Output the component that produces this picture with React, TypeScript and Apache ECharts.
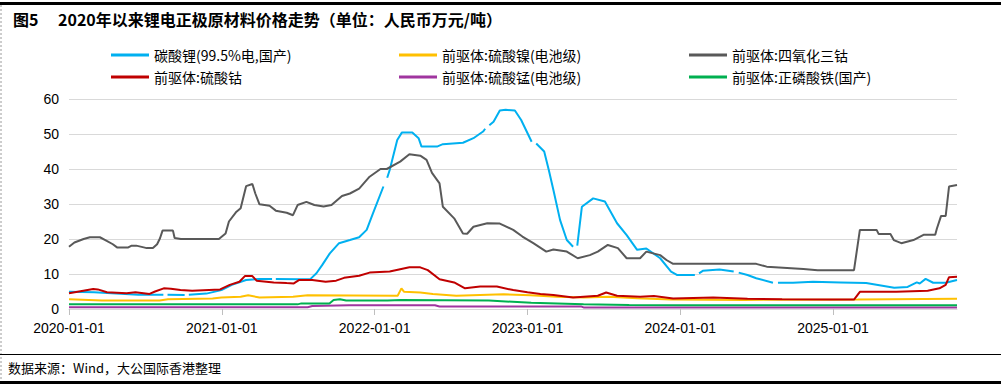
import React, { useEffect, useRef } from "react";
import * as echarts from "echarts";

// ---------- data (value in 万元/吨) ----------
const seriesNames = [
  "碳酸锂(99.5%电,国产)",
  "前驱体:硫酸镍(电池级)",
  "前驱体:四氧化三钴",
  "前驱体:硫酸钴",
  "前驱体:硫酸锰(电池级)",
  "前驱体:正磷酸铁(国产)",
];
const seriesColors = ["#00B0F0", "#FFC000", "#595959", "#C00000", "#A0359F", "#00B050"];

const yearTicks = [2020, 2021, 2022, 2023, 2024, 2025];
const yTickMax = 60;

type P = [string, number | null];

const lithiumCarbonate: P[] = [
  ["2020-01-01", 4.95], ["2020-03-01", 4.8], ["2020-06-15", 4.1], ["2020-08-14", 4.05],
  ["2020-08-19", null], ["2020-08-24", 4.05], ["2020-10-04", 4.0], ["2020-10-09", null],
  ["2020-10-14", 4.05], ["2020-11-25", 4.4], ["2020-12-31", 5.4], ["2021-01-25", 6.9],
  ["2021-02-28", 8.3], ["2021-04-01", 8.6], ["2021-05-01", 8.6], ["2021-05-05", null],
  ["2021-05-10", 8.6], ["2021-07-05", 8.5], ["2021-08-01", 8.6], ["2021-08-15", 10.2],
  ["2021-08-29", 12.6], ["2021-09-16", 15.9], ["2021-10-08", 18.8], ["2021-11-03", 19.7],
  ["2021-11-25", 20.5], ["2021-12-13", 22.6], ["2021-12-28", 27.3], ["2022-01-22", 35],
  ["2022-01-27", null], ["2022-01-31", 37.5], ["2022-02-06", 39.7], ["2022-02-24", 48.3],
  ["2022-03-07", 50.4], ["2022-04-01", 50.4], ["2022-04-16", 48.8], ["2022-04-23", 46.4],
  ["2022-05-30", 46.4], ["2022-06-13", 47.1], ["2022-07-31", 47.5], ["2022-08-25", 48.8],
  ["2022-09-17", 50.7], ["2022-09-22", 51.5], ["2022-09-27", null], ["2022-10-02", 52.5],
  ["2022-10-12", 53.5], ["2022-10-27", 56.7], ["2022-11-10", 56.9], ["2022-12-02", 56.7],
  ["2022-12-17", 54], ["2023-01-11", 47.8], ["2023-01-17", null], ["2023-01-22", 47.3],
  ["2023-02-10", 45], ["2023-02-21", 39.7], ["2023-03-04", 34], ["2023-03-20", 25.4],
  ["2023-04-05", 19.7], ["2023-04-20", 17.8], ["2023-04-25", null], ["2023-04-30", 18.1],
  ["2023-05-11", 29.2], ["2023-06-07", 31.6], ["2023-07-05", 30.7], ["2023-08-03", 24.5],
  ["2023-08-26", 21.1], ["2023-09-20", 16.9], ["2023-10-12", 17.3], ["2023-11-14", 14.5],
  ["2023-12-10", 10.7], ["2023-12-25", 9.7], ["2024-02-05", 9.7], ["2024-02-10", null],
  ["2024-02-15", 10.2], ["2024-02-24", 10.9], ["2024-04-04", 11.3], ["2024-05-08", 10.7],
  ["2024-05-14", null], ["2024-05-20", 10.4], ["2024-06-10", 9.7], ["2024-07-01", 8.8],
  ["2024-08-10", 7.5], ["2024-08-16", null], ["2024-08-22", 7.5], ["2024-09-27", 7.5],
  ["2024-11-14", 7.8], ["2025-01-19", 7.6], ["2025-03-21", 7.4], ["2025-05-27", 6.1],
  ["2025-06-28", 6.3], ["2025-07-20", 7.6], ["2025-07-27", 7.3], ["2025-08-10", 8.6],
  ["2025-08-28", 7.5], ["2025-09-27", 7.5], ["2025-10-24", 8.3],
];

const nickelSulfate: P[] = [
  ["2020-01-01", 2.8], ["2020-03-20", 2.4], ["2020-08-05", 2.4], ["2020-08-25", 2.8],
  ["2020-12-10", 3.0], ["2020-12-31", 3.3], ["2021-02-15", 3.5], ["2021-03-05", 3.9],
  ["2021-04-01", 3.3], ["2021-06-20", 3.5], ["2021-07-25", 3.9], ["2022-02-25", 3.8],
  ["2022-03-06", 5.9], ["2022-03-12", 4.95], ["2022-04-20", 4.7], ["2022-05-20", 4.3],
  ["2022-07-15", 3.8], ["2022-11-05", 4.2], ["2023-01-08", 3.9], ["2023-03-12", 3.5],
  ["2023-05-15", 3.3], ["2023-07-15", 3.5], ["2023-09-20", 3.1], ["2023-12-10", 2.7],
  ["2024-06-01", 2.6], ["2025-03-01", 2.7], ["2025-10-24", 2.9],
];

const cobaltOxide: P[] = [
  ["2020-01-01", 17.8], ["2020-01-14", 19.0], ["2020-02-05", 20.0], ["2020-02-20", 20.5],
  ["2020-03-15", 20.5], ["2020-03-28", 19.7], ["2020-04-15", 18.5], ["2020-04-25", 17.6],
  ["2020-05-22", 17.6], ["2020-05-30", 18.1], ["2020-06-10", 18.1], ["2020-06-28", 17.6],
  ["2020-07-05", 17.4], ["2020-07-20", 17.4], ["2020-07-30", 18.5], ["2020-08-06", 20.2],
  ["2020-08-12", 22.4], ["2020-09-06", 22.4], ["2020-09-10", 20.3], ["2020-09-25", 20.0],
  ["2020-12-25", 20.0], ["2021-01-10", 21.6], ["2021-01-18", 25.0], ["2021-02-05", 27.8],
  ["2021-02-15", 28.8], ["2021-02-28", 35.1], ["2021-03-15", 35.7], ["2021-03-22", 33.0],
  ["2021-04-01", 29.9], ["2021-04-25", 29.5], ["2021-05-10", 28.1], ["2021-06-05", 27.5],
  ["2021-06-20", 26.8], ["2021-07-01", 29.7], ["2021-07-22", 30.6], ["2021-08-10", 29.7],
  ["2021-09-01", 29.3], ["2021-09-20", 29.7], ["2021-10-15", 32.3], ["2021-11-03", 33.0],
  ["2021-11-25", 34.4], ["2021-12-20", 37.8], ["2022-01-15", 40.0], ["2022-01-30", 40.0],
  ["2022-03-03", 42.1], ["2022-03-25", 44.2], ["2022-04-20", 43.8], ["2022-05-05", 42.6],
  ["2022-05-18", 38.9], ["2022-06-05", 35.9], ["2022-06-13", 29.2], ["2022-07-10", 25.9],
  ["2022-07-31", 21.6], ["2022-08-10", 21.5], ["2022-08-25", 23.5], ["2022-09-27", 24.5],
  ["2022-10-27", 24.4], ["2022-11-28", 22.6], ["2022-12-20", 20.7], ["2023-01-15", 18.8],
  ["2023-02-15", 16.4], ["2023-03-04", 17.0], ["2023-04-05", 16.4], ["2023-05-01", 14.5],
  ["2023-05-30", 15.4], ["2023-06-18", 16.4], ["2023-07-12", 18.3], ["2023-08-05", 17.4],
  ["2023-08-26", 14.5], ["2023-09-27", 14.5], ["2023-10-12", 16.4], ["2023-11-14", 15.4],
  ["2023-11-29", 14.0], ["2023-12-15", 12.9], ["2024-07-01", 12.9], ["2024-07-26", 12.1],
  ["2024-10-22", 11.4], ["2024-11-25", 11.1], ["2025-02-20", 11.1], ["2025-03-06", 22.6],
  ["2025-04-15", 22.6], ["2025-04-20", 21.4], ["2025-05-18", 21.4], ["2025-05-26", 19.7],
  ["2025-06-13", 18.8], ["2025-07-12", 19.7], ["2025-08-05", 21.2], ["2025-09-02", 21.2],
  ["2025-09-06", 23.0], ["2025-09-16", 26.6], ["2025-09-27", 26.6], ["2025-10-05", 35.0],
  ["2025-10-24", 35.4],
];

const cobaltSulfate: P[] = [
  ["2020-01-01", 4.5], ["2020-01-25", 5.0], ["2020-02-28", 5.7], ["2020-03-10", 5.6],
  ["2020-04-01", 4.8], ["2020-05-18", 4.5], ["2020-06-08", 4.8], ["2020-07-12", 4.3],
  ["2020-07-25", 5.0], ["2020-08-15", 5.9], ["2020-09-01", 5.8], ["2020-09-24", 5.4],
  ["2020-10-22", 5.2], ["2020-12-28", 5.6], ["2021-01-20", 6.9], ["2021-02-12", 7.8],
  ["2021-02-25", 9.4], ["2021-03-15", 9.4], ["2021-03-25", 8.1], ["2021-05-05", 7.6],
  ["2021-06-05", 7.4], ["2021-06-22", 7.3], ["2021-07-05", 8.3], ["2021-08-05", 8.3],
  ["2021-09-06", 7.8], ["2021-10-01", 8.1], ["2021-10-20", 8.9], ["2021-11-25", 9.5],
  ["2021-12-20", 10.4], ["2022-02-06", 10.7], ["2022-03-25", 11.9], ["2022-04-20", 11.9],
  ["2022-05-08", 11.1], ["2022-06-05", 8.5], ["2022-07-10", 7.6], ["2022-08-05", 5.9],
  ["2022-09-10", 6.4], ["2022-10-20", 6.4], ["2022-11-28", 5.4], ["2023-01-01", 4.8],
  ["2023-02-01", 4.3], ["2023-03-04", 4.0], ["2023-04-20", 3.3], ["2023-06-18", 3.8],
  ["2023-07-08", 4.7], ["2023-08-03", 3.8], ["2023-09-27", 3.5], ["2023-10-30", 3.7],
  ["2023-12-15", 3.0], ["2024-03-20", 3.3], ["2024-06-10", 2.9], ["2024-09-01", 2.8],
  ["2024-12-25", 2.7], ["2025-02-20", 2.7], ["2025-03-06", 4.9], ["2025-06-01", 4.9],
  ["2025-08-15", 5.2], ["2025-09-12", 5.9], ["2025-09-27", 6.9], ["2025-10-05", 9.1],
  ["2025-10-24", 9.2],
];

const manganeseSulfate: P[] = [
  ["2020-01-01", 0.5], ["2021-07-25", 0.5], ["2021-08-05", 0.85], ["2021-11-01", 1.05],
  ["2022-05-25", 1.05], ["2022-06-05", 0.7], ["2023-05-10", 0.7], ["2023-05-15", 0.45],
  ["2025-10-24", 0.45],
];

const ironPhosphate: P[] = [
  ["2020-01-01", 1.33], ["2021-07-01", 1.33], ["2021-07-10", 1.6], ["2021-09-15", 1.6],
  ["2021-09-25", 2.6], ["2021-10-10", 2.8], ["2021-10-25", 2.4], ["2022-02-01", 2.4],
  ["2022-03-05", 2.6], ["2022-10-01", 2.4], ["2023-01-10", 1.8], ["2023-05-15", 1.33],
  ["2023-09-01", 1.15], ["2024-01-01", 1.05], ["2025-10-24", 1.05],
];

const allSeries = [lithiumCarbonate, nickelSulfate, cobaltOxide, cobaltSulfate, manganeseSulfate, ironPhosphate];

// date string -> fractional year (so yearly ticks land on Jan 1)
const toYear = (s: string) => {
  const [y, m, d] = s.split("-").map(Number);
  const a = Date.UTC(y, 0, 1);
  const b = Date.UTC(y + 1, 0, 1);
  return y + (Date.UTC(y, m - 1, d) - a) / (b - a);
};

const lastDate = "2025-10-24";

export default function App() {
  const ref = useRef<HTMLDivElement>(null);
  useEffect(() => {
    const chart = echarts.init(ref.current!, null, { renderer: "svg" });
    const cjk = '"Noto Sans CJK SC", sans-serif';
    const num = '"Liberation Sans", Arial, sans-serif';
    const legendCols = [[0, 3], [1, 4], [2, 5]];
    const legendLefts = [111, 399, 689];
    chart.setOption({
      animation: false,
      backgroundColor: "#fff",
      grid: { left: 69, right: 44, top: 99, bottom: 76 },
      legend: legendCols.map((col, i) => ({
        orient: "vertical",
        left: legendLefts[i],
        top: 47,
        padding: 0,
        itemGap: 6,
        itemWidth: 38,
        itemHeight: 3,
        icon: "rect",
        data: col.map((k) => seriesNames[k]),
        textStyle: { fontFamily: cjk, fontSize: 14, color: "#000", lineHeight: 16 },
      })),
      xAxis: {
        type: "value",
        min: 2020,
        max: toYear(lastDate),
        interval: 1,
        axisLine: { show: true, lineStyle: { color: "#D9D9D9", width: 1 } },
        axisTick: { show: true, length: 6, lineStyle: { color: "#BFBFBF" }, customValues: yearTicks },
        splitLine: { show: false },
        axisLabel: {
          customValues: yearTicks,
          formatter: (v: number) => `${Math.round(v)}-01-01`,
          fontFamily: num,
          fontSize: 14,
          color: "#000",
          margin: 12,
        },
      },
      yAxis: {
        type: "value",
        min: 0,
        max: yTickMax,
        interval: 10,
        axisLine: { show: false },
        axisTick: { show: false },
        splitLine: { lineStyle: { color: "#D9D9D9", width: 1 } },
        axisLabel: { fontFamily: num, fontSize: 14, color: "#000", margin: 10 },
      },
      series: allSeries.map((d, i) => ({
        name: seriesNames[i],
        type: "line",
        showSymbol: false,
        symbol: "none",
        connectNulls: false,
        color: seriesColors[i],
        lineStyle: { width: 2, color: seriesColors[i] },
        data: d.map(([t, v]) => [toYear(t), v]),
      })),
      graphic: [
        { type: "rect", left: 0, top: 2, shape: { width: 1001, height: 3 }, style: { fill: "#000" } },
        { type: "line", shape: { x1: 1, y1: 5, x2: 1, y2: 381 }, style: { stroke: "#9A9A9A", lineWidth: 1, lineDash: [2, 2] } },
        { type: "text", left: 13, top: 11, style: { text: "图5", font: `bold 16px ${cjk}`, fill: "#000" } },
        {
          type: "text",
          left: 58,
          top: 11,
          style: { text: "2020年以来锂电正极原材料价格走势（单位：人民币万元/吨）", font: `bold 16px ${cjk}`, fill: "#000" },
        },
        { type: "line", shape: { x1: 0, y1: 354.5, x2: 1001, y2: 354.5 }, style: { stroke: "#000", lineWidth: 1.2 } },
        { type: "text", left: 8, top: 361, style: { text: "数据来源：Wind，大公国际香港整理", font: `13px ${cjk}`, fill: "#000" } },
        { type: "rect", left: 0, top: 381, shape: { width: 1001, height: 3 }, style: { fill: "#000" } },
      ],
    });
    return () => chart.dispose();
  }, []);
  return <div ref={ref} style={{ position: "fixed", left: 0, top: 0, width: 1001, height: 385, background: "#fff" }} />;
}
